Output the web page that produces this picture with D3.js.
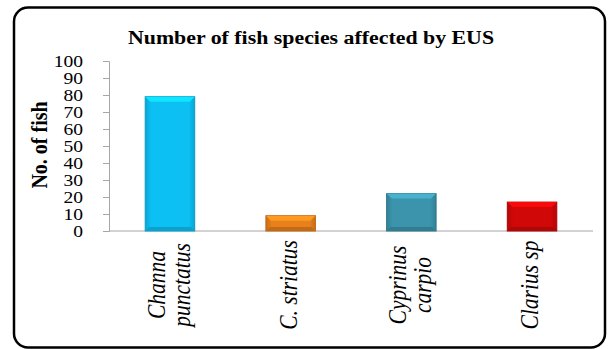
<!DOCTYPE html>
<html>
<head>
<meta charset="utf-8">
<script src="https://cdn.jsdelivr.net/npm/d3@7"></script>
<style>
  body { margin: 0; background: #fff; }
  text { font-family: "Liberation Serif", "Times New Roman", serif; }
</style>
</head>
<body>
<div id="chart"></div>
<script>
// data
var species = ["Channa punctatus", "C. striatus", "Cyprinus carpio", "Clarius sp"];
var speciesLines = [["Channa", "punctatus"], ["C. striatus"], ["Cyprinus", "carpio"], ["Clarius sp"]];
var fishCount = [79, 9, 22, 17];
var barColors = ["#0cc0f4", "#e8801c", "#3b94ac", "#d00808"];
var yTicks = [0, 10, 20, 30, 40, 50, 60, 70, 80, 90, 100];

var W = 608, H = 349;
var stretch = 1.15; // text in the picture looks a bit wider than normal
var margin = {top: 61, right: 15, bottom: 118, left: 109},
    width = 593 - margin.left,
    height = 231 - margin.top;

var svg = d3.select("#chart").append("svg")
    .attr("width", W).attr("height", H);

// outer frame
svg.append("rect")
    .attr("x", 14).attr("y", 7.5)
    .attr("width", 591).attr("height", 340)
    .attr("rx", 14).attr("ry", 14)
    .attr("fill", "#fff").attr("stroke", "#000").attr("stroke-width", 2.5);

svg.append("text")
    .attr("transform", "translate(311,44) scale(" + stretch + ",1)")
    .attr("text-anchor", "middle")
    .attr("font-size", 19).attr("font-weight", "bold")
    .text("Number of fish species affected by EUS");

var g = svg.append("g")
    .attr("transform", "translate(" + margin.left + "," + margin.top + ")");

var x = d3.scaleBand().domain(species).range([0, width]).paddingInner(0.59).paddingOuter(0.3);
var y = d3.scaleLinear().domain([0, 100]).range([height, 0]);

var yAxis = g.append("g").call(d3.axisLeft(y).tickValues(yTicks).tickSize(6).tickPadding(16.5));
yAxis.select(".domain").attr("stroke", "#a6a6a6");
yAxis.selectAll(".tick line").attr("stroke", "#a6a6a6");
yAxis.selectAll(".tick text")
    .attr("font-family", "Liberation Serif").attr("font-size", 17).attr("fill", "#000")
    .attr("dy", "0.34em")
    .attr("transform", "scale(" + stretch + ",1)");

g.append("line")
    .attr("x1", 0).attr("x2", width)
    .attr("y1", height).attr("y2", height)
    .attr("stroke", "#a6a6a6");

// gradients / bevel bars
var defs = svg.append("defs");
barColors.forEach(function(c, i) {
  var grad = defs.append("linearGradient").attr("id", "grad" + i)
      .attr("x1", 0).attr("x2", 1).attr("y1", 0).attr("y2", 0);
  grad.append("stop").attr("offset", "0%").attr("stop-color", d3.color(c).darker(0.4));
  grad.append("stop").attr("offset", "12%").attr("stop-color", c);
  grad.append("stop").attr("offset", "88%").attr("stop-color", c);
  grad.append("stop").attr("offset", "100%").attr("stop-color", d3.color(c).darker(0.4));
});

var bars = g.selectAll(".bar").data(species).enter().append("g").attr("class", "bar");

bars.append("rect")
    .attr("x", function(d) { return x(d); })
    .attr("y", function(d, i) { return y(fishCount[i]); })
    .attr("width", x.bandwidth())
    .attr("height", function(d, i) { return height - y(fishCount[i]); })
    .attr("fill", function(d, i) { return "url(#grad" + i + ")"; })
    .attr("stroke", function(d, i) { return d3.color(barColors[i]).darker(0.6); })
    .attr("stroke-width", 1);

// light bevel on top
bars.append("path")
    .attr("d", function(d, i) {
      var x0 = x(d), x1 = x(d) + x.bandwidth(), y0 = y(fishCount[i]), b = 5;
      return "M" + x0 + "," + y0 + "L" + x1 + "," + y0 + "L" + (x1 - b) + "," + (y0 + b) +
             "L" + (x0 + b) + "," + (y0 + b) + "Z";
    })
    .attr("fill", function(d, i) { return d3.color(barColors[i]).brighter(0.5); });
// darker bevel at bottom
bars.append("path")
    .attr("d", function(d, i) {
      var x0 = x(d), x1 = x(d) + x.bandwidth(), y0 = height, b = 4;
      return "M" + x0 + "," + y0 + "L" + x1 + "," + y0 + "L" + (x1 - b) + "," + (y0 - b) +
             "L" + (x0 + b) + "," + (y0 - b) + "Z";
    })
    .attr("fill", function(d, i) { return d3.color(barColors[i]).darker(0.5); });

// category labels, rotated
species.forEach(function(s, i) {
  var lines = speciesLines[i];
  var cx = x(s) + x.bandwidth() / 2;
  var base = lines.length == 1 ? 5.5 : 6.5;
  var t = g.append("text")
      .attr("transform", "translate(" + cx + "," + (height + 54) + ") scale(" + stretch + ",1) rotate(-90)")
      .attr("text-anchor", "middle")
      .attr("font-style", "italic").attr("font-size", 21.5);
  lines.forEach(function(l, j) {
    t.append("tspan")
      .attr("x", 0)
      .attr("y", (j - (lines.length - 1) / 2) * 22 + base)
      .text(l);
  });
});

svg.append("text")
    .attr("transform", "translate(47,145) scale(" + stretch + ",1) rotate(-90)")
    .attr("text-anchor", "middle")
    .attr("font-size", 20).attr("font-weight", "bold")
    .text("No. of fish");
</script>
</body>
</html>
